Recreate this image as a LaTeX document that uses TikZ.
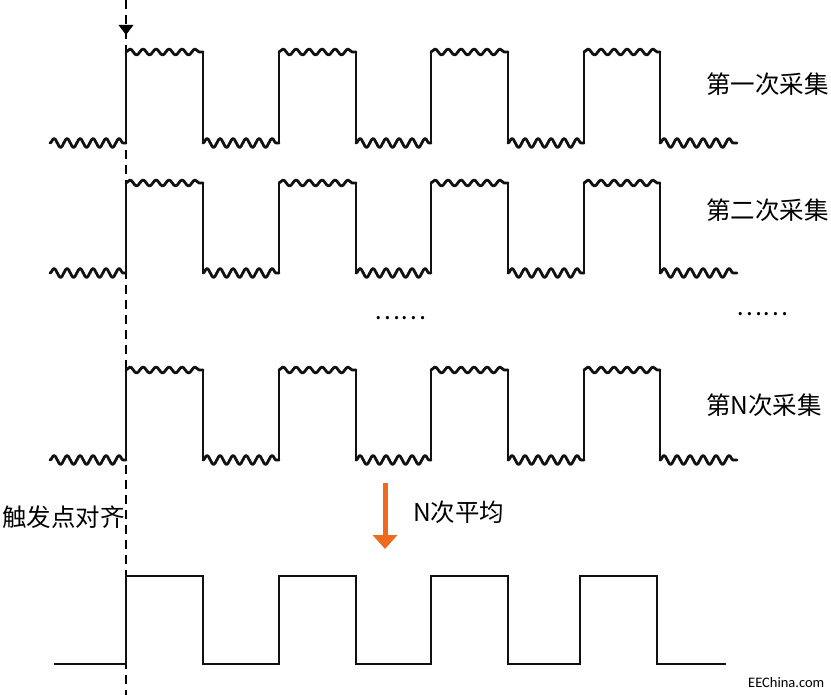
\documentclass[tikz,border=0pt]{standalone}
\usepackage{fontspec}
\usepackage{xcolor}
\newfontfamily\cjk{Noto Sans CJK SC}
\newfontfamily\webfont{Carlito}
\usetikzlibrary{arrows.meta, positioning, decorations.pathmorphing}
\definecolor{avgorange}{HTML}{EE6A1C}
\definecolor{sigblack}{HTML}{111111}

\begin{document}
\begin{tikzpicture}[
    x=1pt, y=-1pt,
    >=Stealth,
    edge/.style={draw=sigblack, line width=2.8pt, line cap=round, line join=round},
    noisyhi/.style={edge, decorate, decoration={snake, amplitude=3pt, segment length=13pt}},
    noisylo/.style={edge, decorate, decoration={snake, amplitude=4.5pt, segment length=13pt}},
    clean/.style={edge, line cap=butt, line join=miter},
    trig/.style={draw=black, line width=1.2pt, dash pattern=on 9pt off 6pt},
    label/.style={font=\cjk\fontsize{24.5}{28}\selectfont, inner sep=0pt, text=black},
    avg/.style={draw=avgorange, line width=5pt, -{Triangle[width=24pt, length=14pt]}},
]
\useasboundingbox (0,0) rectangle (831,695);

% Trigger alignment line
\draw[trig] (126,0) -- (126,695);
\fill[black] (118.5,25) -- (133.5,25) -- (126,35) -- cycle;

% Noisy acquisitions
\foreach \yh/\yl in {52/143, 183/273, 370/460} {
  \draw[noisylo] (50,\yl) -- (126,\yl);
  \foreach \r/\f/\n in {126/203/279, 279/356/431, 431/508/584, 584/660/737} {
    \draw[edge] (\r,\yl) -- (\r,\yh);
    \draw[noisyhi] (\r,\yh) -- (\f,\yh);
    \draw[edge] (\f,\yh) -- (\f,\yl);
    \draw[noisylo] (\f,\yl) -- (\n,\yl);
  }
}

% Averaged result
\draw[clean] (54,664) -- (126,664) -- (126,576) -- (203,576) -- (203,664)
  -- (279,664) -- (279,576) -- (356,576) -- (356,664)
  -- (431,664) -- (431,576) -- (508,576) -- (508,664)
  -- (580,664) -- (580,576) -- (657,576) -- (657,664) -- (726,664);

% Labels
\node[label, anchor=west] (acq1) at (706,84) {第一次采集};
\node[label, anchor=west] (acq2) at (706,210) {第二次采集};
\node[label, anchor=west] (acqN) at (706,405) {第N次采集};
\node[label] (dotsmid) at (400,318) {……};
\node[label] (dotsend) at (762,314) {……};
\node[label, anchor=west] (align) at (2,517) {触发点对齐};

% Averaging arrow
\coordinate (avgtop) at (385,483);
\coordinate (avgbot) at (385,549);
\draw[avg] (avgtop) -- (avgbot);
\node[label, anchor=west] (avgtext) at (413,512) {N次平均};

\node[font=\webfont\fontsize{14.5}{17}\selectfont, anchor=west, inner sep=0pt] (site) at (748,683) {EEChina.com};

\end{tikzpicture}
\end{document}
